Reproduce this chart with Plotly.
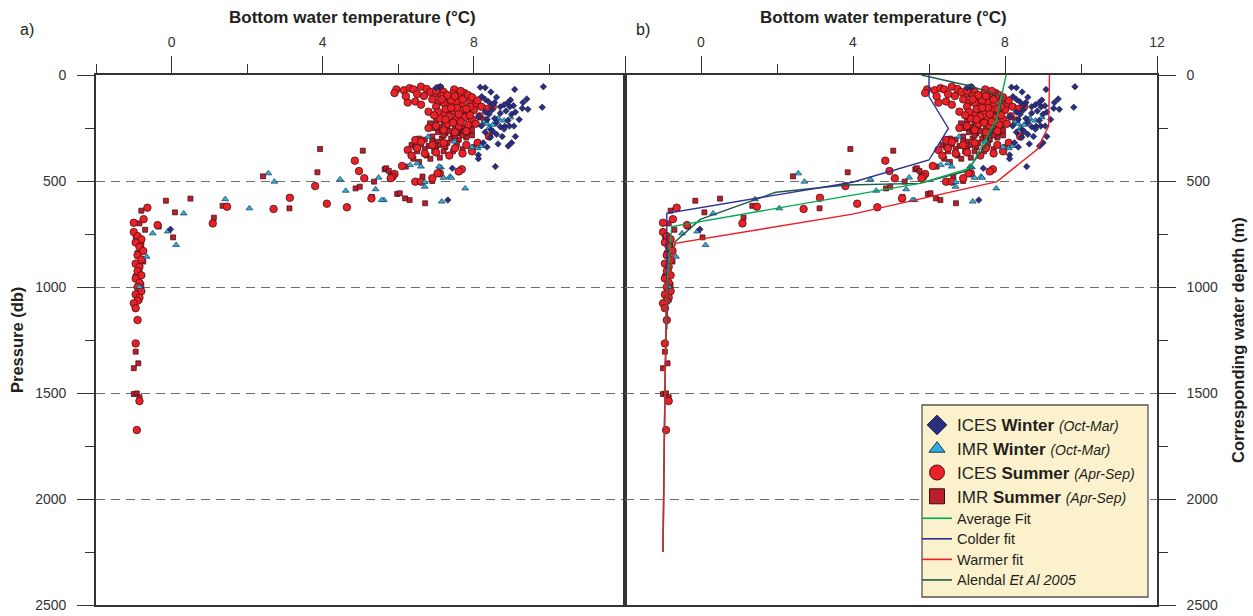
import plotly.graph_objects as go

# ---------------- data: bottom temperature (°C) vs pressure (db) ----------------
ices_winter_t = [7.12, 8.17, 8.3, 9.08, 9.84, 9.4, 9.28, 9.43, 9.81, 8.97, 8.9, 8.8, 8.95, 9.05,
                 8.39, 8.55, 8.21, 8.3, 8.48, 8.3, 8.14, 8.35, 8.55, 8.7, 8.82, 8.94, 9.06, 8.8,
                 8.45, 8.3, 8.44, 8.64, 8.91, 8.25, 8.12, 8.12, 7.43, 8.57, 7.31, -0.03, 7.0, 8.6,
                 8.7, 9.0, 8.2, 8.6,
                 8.5, 8.7, 8.85, 9.1, 8.4, 8.6, 8.9, 9.2, 8.5, 8.75, 9.1, 8.35, 9.0, 9.3, 8.45]
ices_winter_p = [55, 58, 60, 68, 55, 113, 157, 162, 152, 118, 130, 140, 150, 145,
                 126, 130, 102, 115, 165, 175, 197, 210, 205, 244, 242, 241, 241, 255,
                 258, 270, 294, 325, 335, 320, 377, 395, 440, 432, 590, 728, 60, 105,
                 180, 185, 240, 280,
                 140, 150, 170, 175, 185, 225, 215, 210, 265, 290, 290, 340, 320, 130, 80]

imr_winter_t = [7.15, 7.13, 7.37, 7.2, 6.7, 6.7, 7.77, 7.95, 8.1, 8.2, 7.48, 8.28, 8.35, 8.5,
                8.61, 8.65, 8.97, 6.79, 5.62, 0.32, -0.1, -0.5, 0.12, 1.42, 2.06, 2.56, 2.72,
                4.46, 4.61, 5.4, 5.48, 5.56, 6.31, 6.5, 6.6, 7.08, 7.4, -0.66, -0.85, 8.4, 8.8]
imr_winter_p = [597, 436, 479, 485, 527, 505, 535, 341, 345, 335, 314, 220, 230, 235,
                210, 204, 200, 291, 590, 653, 738, 747, 802, 586, 629, 464, 503,
                492, 546, 539, 484, 590, 425, 417, 432, 432, 485, 857, 1000, 250, 215]

ices_summer_t = [5.95, 5.9, 6.15, 6.3, 6.4, 6.6, 6.75, 6.68, 6.25, 6.45, 6.8, 6.95, 7.1, 7.2,
                 7.2, 7.48, 7.45, 7.6, 7.3, 7.75, 7.85, 7.05, 7.35, 7.55, 7.7, 7.9, 8.05, 7.25,
                 7.45, 7.65, 7.85, 8.0, 8.2, 7.1, 7.35, 7.55, 7.75, 7.95, 8.15, 7.3, 7.6, 7.85,
                 8.35, 8.5, 8.3, 7.0, 6.9, 7.15, 7.4, 7.65, 7.95, 8.1, 7.55, 7.2,
                 6.85, 7.0, 7.3, 7.5, 7.7, 7.9, 7.15, 7.4, 7.6, 7.8, 7.05, 7.25, 7.45, 7.65,
                 7.9, 8.05, 7.0, 6.95, 7.8, 7.5, 7.2, 6.8, 6.6, 6.5, 6.2,
                 6.45, 6.6, 6.25, 6.5, 6.9, 7.2, 7.5, 7.8, 8.1, 6.7, 7.0, 7.35, 7.7, 8.4, 6.35, 7.95,
                 6.1, 5.9, 5.85, 6.45, 6.6, 7.1, 7.68, 7.6, 4.85, 4.96, 5.1, 5.29, 5.8, 6.9, 7.04,
                 3.8, 4.11, 4.64, 3.13, 2.7, 1.47, 1.09,
                 -0.64, -1.0, -1.0, -0.74, -0.37, -0.9, -0.8, -0.95, -0.85, -0.75, -0.9, -0.8,
                 -0.95, -0.85, -0.9, -0.8, -0.95, -0.85, -0.9, -0.8, -0.95, -0.85, -0.9, -1.0,
                 -0.95, -0.9, -0.95, -0.85, -0.92]
ices_summer_p = [68, 85, 72, 62, 68, 55, 66, 99, 130, 125, 173, 95, 60, 80,
                 189, 68, 88, 105, 110, 85, 95, 130, 140, 130, 145, 125, 140, 160,
                 170, 165, 175, 165, 150, 205, 195, 205, 200, 210, 195, 230, 240, 235,
                 160, 150, 215, 150, 115, 100, 120, 75, 105, 120, 155, 130,
                 80, 75, 95, 100, 115, 150, 115, 155, 185, 160, 175, 210, 225, 220,
                 190, 230, 240, 190, 265, 270, 260, 250, 140, 90, 100,
                 307, 315, 354, 345, 330, 320, 345, 330, 320, 370, 365, 380, 370, 290, 380, 360,
                 429, 467, 480, 503, 503, 464, 445, 455, 404, 453, 487, 582, 487, 487, 464,
                 524, 607, 624, 579, 632, 621, 700,
                 626, 697, 741, 680, 708, 760, 775, 790, 810, 830, 850, 870,
                 890, 905, 925, 945, 960, 980, 1000, 1020, 1035, 1050, 1065, 1077,
                 1100, 1156, 1266, 1538, 1675]

imr_summer_t = [-0.8, -0.85, -0.7, -0.95, -0.8, -0.9, -0.75, -0.85, -0.95, -0.8, -0.9, -0.85,
                -0.95, -0.88, -1.0, -1.0, -0.92, -0.85,
                -0.34, -0.15, 0.09, 0.5, 0.04, 1.12, 1.35, 3.12, 2.42, 3.86, 3.93, 5.06, 4.87,
                4.98, 5.3, 5.36, 5.64, 5.8, 5.97, 6.18, 6.2, 6.64, 6.71, 5.68, 5.75, 6.04, 6.3, 6.9,
                6.84, 7.0, 7.2, 7.4, 7.6, 7.1, 7.3, 7.5, 7.7, 7.9, 7.05, 7.25, 7.45, 7.65, 7.85,
                6.9, 7.15, 7.4, 7.6, 7.8, 6.6, 6.8, 7.0, 7.25, 6.5, 6.75, 7.1, 6.4, 6.95, 7.45,
                7.7, 8.0, 6.35, 7.55, 7.75, 7.3, 6.55, 7.95,
                6.95, 7.15, 7.35, 7.55, 7.75, 7.95, 7.2, 7.5, 7.7, 6.7, 7.0, 7.3, 7.55, 6.9,
                7.1, 6.45, 6.7, 7.2, 6.85, 6.55]
imr_summer_p = [640, 700, 730, 760, 800, 840, 880, 920, 950, 990, 1030, 1060,
                1305, 1360, 1383, 1505, 1502, 1520,
                715, 593, 648, 583, 766, 673, 617, 629, 478, 459, 349, 357, 535,
                527, 575, 503, 445, 470, 561, 582, 432, 479, 605, 440, 452, 558, 590, 500,
                228, 215, 225, 215, 225, 245, 250, 255, 250, 245, 270, 275, 280, 275, 270,
                290, 300, 300, 305, 295, 325, 335, 345, 340, 360, 380, 390, 395, 360, 360,
                350, 340, 330, 200, 190, 185, 300, 285,
                250, 260, 265, 270, 265, 260, 285, 290, 285, 305, 315, 320, 325, 310,
                330, 340, 350, 360, 395, 410]

# fitted temperature profiles
fit_avg_t = [8.03, 7.77, 7.43, 7.08, 5.76, 2.05, -0.77, -0.9, -0.95, -1.0]
fit_avg_p = [0, 212, 322, 440, 511, 626, 715, 1000, 1500, 2250]
fit_cold_t = [6.0, 6.0, 6.51, 6.0, 3.99, 1.46, -0.9, -0.9, -0.95, -1.0]
fit_cold_p = [0, 102, 252, 401, 506, 582, 652, 1000, 1500, 2250]
fit_warm_t = [9.17, 9.15, 8.85, 7.79, 3.99, -0.68, -0.9, -0.95, -1.0]
fit_warm_p = [0, 240, 350, 503, 656, 794, 1000, 1500, 2250]
alendal_t = [5.8, 7.08, 7.96, 7.55, 6.99, 5.76, 3.82, 1.97, -0.02, -0.68, -0.77, -0.85, -0.9]
alendal_p = [0, 52, 102, 320, 453, 511, 519, 553, 681, 786, 873, 951, 1200]

temp_ticks = [0, 4, 8, 12]
temp_minor = [-2, 2, 6, 10]
pres_ticks = [0, 500, 1000, 1500, 2000, 2500]
pres_minor = [250, 750, 1250, 1750, 2250]

# ---------------- styling ----------------
W, H = 1253, 616
ML, MR, MT, MB = 96, 96, 75, 11
PW, PH = W - ML - MR, H - MT - MB
SPLIT = 529 / PW
FONT = "Liberation Sans, Arial, sans-serif"
INK = "#333333"
TXT = "#231F20"


def px(x):
    return (x - ML) / PW


def py(y):
    return (H - MB - y) / PH


C_DIAMOND = "#2B2F80"
C_TRI = "#2BB0E2"
C_CIRCLE = "#EC2128"
C_SQUARE = "#BC1E2D"
C_AVG = "#00A94F"
C_COLD = "#2E3192"
C_WARM = "#ED1C24"
C_ALENDAL = "#1E5A4C"

series = [
    (imr_summer_t, imr_summer_p, dict(symbol="square", size=5, color=C_SQUARE,
                                      line=dict(color="#3A0B0E", width=0.7))),
    (ices_summer_t, ices_summer_p, dict(symbol="circle", size=7.5, color=C_CIRCLE,
                                        line=dict(color="#4A1114", width=0.8))),
    (imr_winter_t, imr_winter_p, dict(symbol="triangle-up", size=6, color=C_TRI,
                                      line=dict(color="#1B3346", width=0.7))),
    (ices_winter_t, ices_winter_p, dict(symbol="diamond", size=5, color=C_DIAMOND,
                                        line=dict(color="#14143A", width=0.6))),
]

fits = [
    (alendal_t, alendal_p, C_ALENDAL, "Alendal <i>Et Al 2005</i>"),
    (fit_cold_t, fit_cold_p, C_COLD, "Colder fit"),
    (fit_avg_t, fit_avg_p, C_AVG, "Average Fit"),
    (fit_warm_t, fit_warm_p, C_WARM, "Warmer fit"),
]

fig = go.Figure()

for xa, ya, with_fits in (("x", "y", False), ("x2", "y2", True)):
    for t, p, mk in series:
        fig.add_trace(go.Scatter(x=t, y=p, mode="markers", marker=mk, xaxis=xa, yaxis=ya,
                                 showlegend=False, hoverinfo="skip"))
    if with_fits:
        for t, p, c, _ in fits:
            fig.add_trace(go.Scatter(x=t, y=p, mode="lines", line=dict(color=c, width=1.4),
                                     xaxis=xa, yaxis=ya, showlegend=False, hoverinfo="skip"))


def big(label, season, months):
    return ("<span style='font-size:17px'>%s <b>%s</b> </span>"
            "<i><span style='font-size:14px'>(%s)</span></i>" % (label, season, months))


def small(text):
    return "<span style='font-size:14.5px'>%s</span>" % text


# legend entries (marker group, then line group)
legend_markers = [
    (big("ICES", "Winter", "Oct-Mar"),
     dict(symbol="diamond", size=15, color=C_DIAMOND, line=dict(color="#14143A", width=1))),
    (big("IMR", "Winter", "Oct-Mar"),
     dict(symbol="triangle-up", size=14, color=C_TRI, line=dict(color="#1B3346", width=1))),
    (big("ICES", "Summer", "Apr-Sep"),
     dict(symbol="circle", size=15, color=C_CIRCLE, line=dict(color="#4A1114", width=1))),
    (big("IMR", "Summer", "Apr-Sep"),
     dict(symbol="square", size=15, color=C_SQUARE, line=dict(color="#3A0B0E", width=1))),
]
for name, mk in legend_markers:
    fig.add_trace(go.Scatter(x=[None], y=[None], mode="markers", marker=mk, name=name,
                             xaxis="x2", yaxis="y2", legend="legend"))
for t, p, c, name in [fits[2], fits[1], fits[3], fits[0]]:
    fig.add_trace(go.Scatter(x=[None], y=[None], mode="lines", line=dict(color=c, width=1.6),
                             name=small(name), xaxis="x2", yaxis="y2", legend="legend2"))

xcommon = dict(range=[-2, 12], side="top", tickvals=temp_ticks, ticks="outside", ticklen=17,
               tickwidth=1, tickcolor=INK,
               minor=dict(tickvals=temp_minor, ticks="outside", ticklen=9, tickcolor=INK,
                          tickwidth=1, showgrid=False),
               showline=True, linecolor=INK, linewidth=1.6, mirror=True, showgrid=False,
               zeroline=False, tickfont=dict(family=FONT, size=14, color=INK),
               ticklabelstandoff=4, fixedrange=True)
ycommon = dict(range=[2500, 0], domain=[0, 1], tickvals=pres_ticks, ticks="outside",
               ticklen=17, tickwidth=1, tickcolor=INK,
               minor=dict(tickvals=pres_minor, ticks="outside", ticklen=9, tickcolor=INK,
                          tickwidth=1, showgrid=False),
               showline=True, linecolor=INK, linewidth=1.6, mirror=True,
               showgrid=True, gridcolor="#6e6e6e", gridwidth=1.2, griddash="9px,6px",
               zeroline=False, tickfont=dict(family=FONT, size=14, color=INK),
               ticklabelstandoff=8, fixedrange=True)


def label(text, x, y, size, angle=0):
    return dict(text=text, x=x, y=y, xref="paper", yref="paper", showarrow=False,
                xanchor="center", yanchor="middle", textangle=angle,
                font=dict(family=FONT, size=size, color=TXT))


fig.update_layout(
    width=W, height=H,
    margin=dict(l=ML, r=MR, t=MT, b=MB, autoexpand=False),
    paper_bgcolor="white", plot_bgcolor="white",
    font=dict(family=FONT, color=TXT),
    xaxis=dict(xcommon, domain=[0, SPLIT], anchor="y", ticktext=["0", "4", "8", ""]),
    xaxis2=dict(xcommon, domain=[SPLIT, 1], anchor="y2", ticktext=["0", "4", "8", "12"]),
    yaxis=dict(ycommon, side="left", anchor="x"),
    yaxis2=dict(ycommon, side="right", anchor="x2"),
    legend=dict(x=px(917), y=py(408), xanchor="left", yanchor="top",
                bgcolor="rgba(0,0,0,0)", borderwidth=0, tracegroupgap=0,
                font=dict(family=FONT, size=16, color=TXT), itemclick=False),
    legend2=dict(x=px(917), y=py(503), xanchor="left", yanchor="top",
                 bgcolor="rgba(0,0,0,0)", borderwidth=0, tracegroupgap=0,
                 font=dict(family=FONT, size=13.5, color=TXT), itemclick=False),
    shapes=[dict(type="rect", xref="paper", yref="paper", x0=px(922), x1=px(1148),
                 y0=py(597), y1=py(405), fillcolor="#FBF2CD",
                 line=dict(color="#555555", width=1.3), layer="above")],
    annotations=[
        label("<b>Bottom water temperature (°C)</b>", px(352), py(17), 17),
        label("<b>Bottom water temperature (°C)</b>", px(883), py(17), 17),
        label("a)", px(27), py(30), 16),
        label("b)", px(643), py(30), 16),
        label("<b>Pressure (db)</b>", px(17), 0.5, 16.5, -90),
        label("<b>Corresponding water depth (m)</b>", px(1238), 0.5, 16.5, -90),
    ],
)

fig.write_html("out.html")
